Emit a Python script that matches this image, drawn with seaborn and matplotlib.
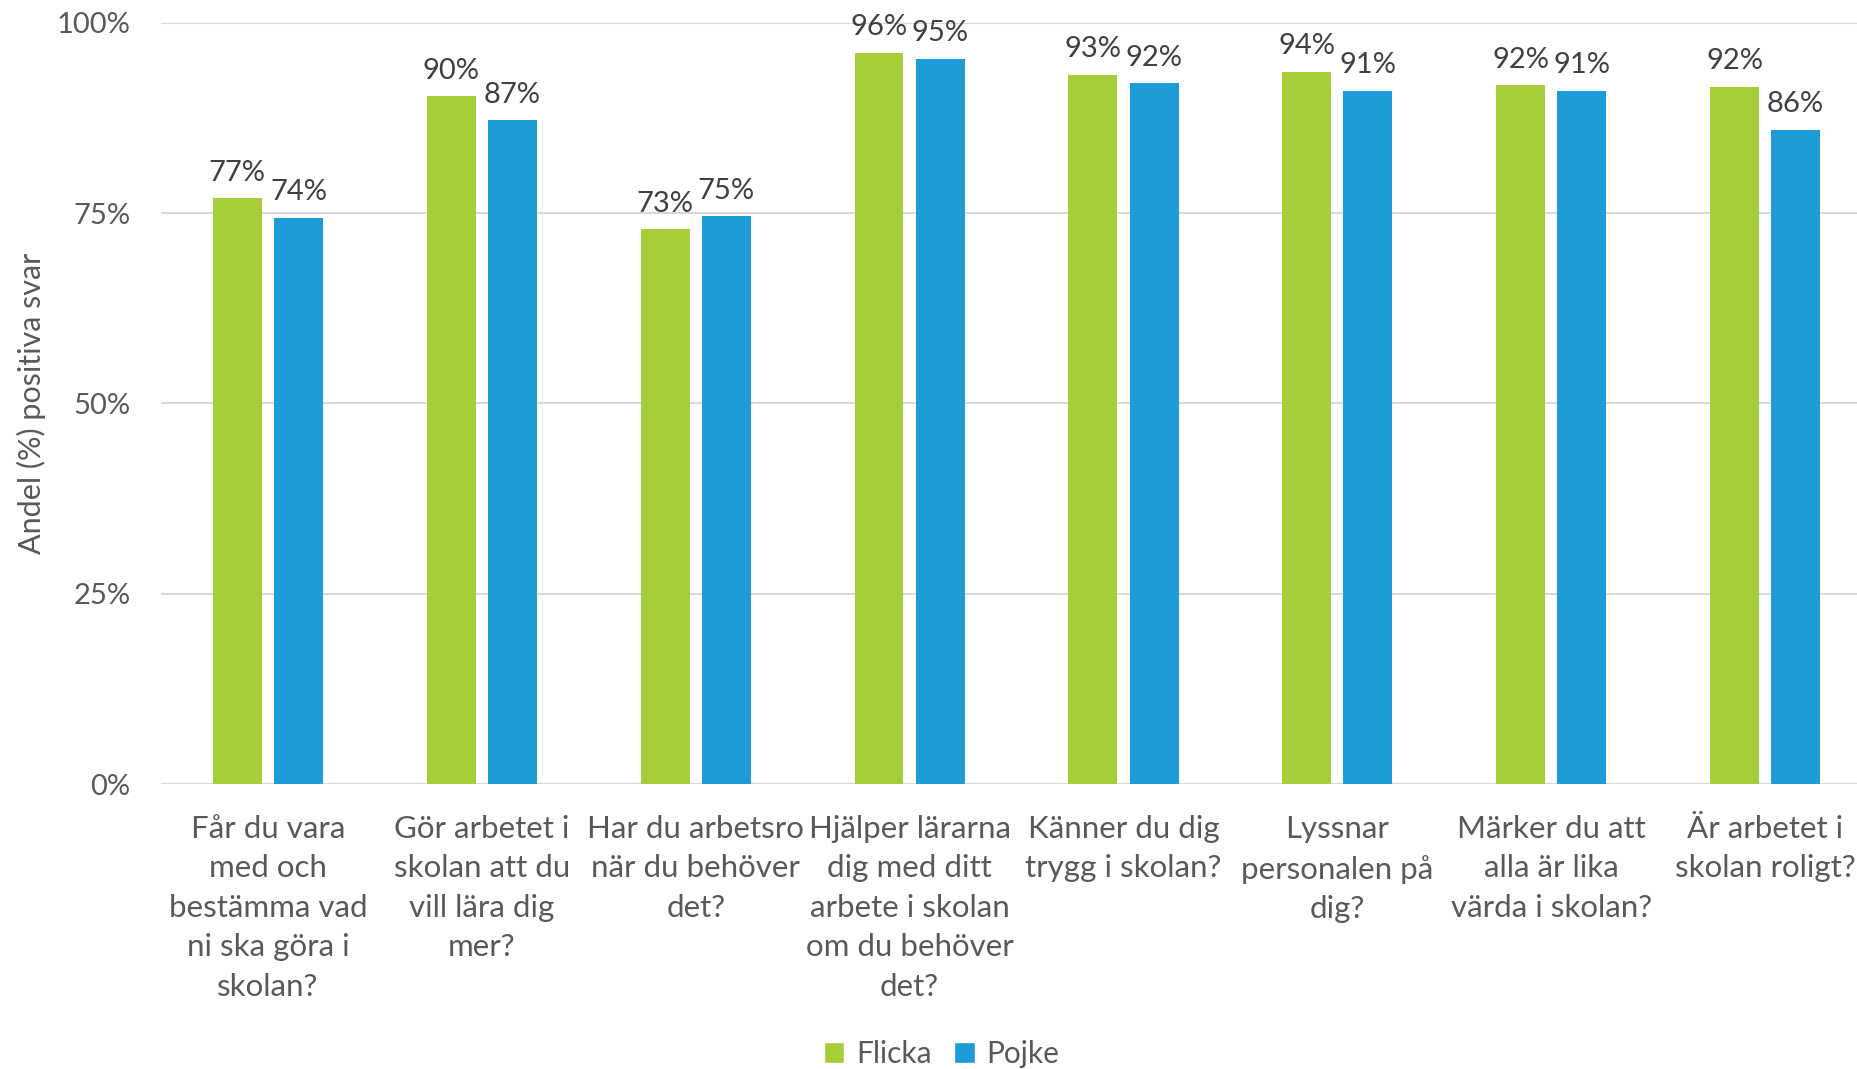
import matplotlib
matplotlib.use("Agg")
import matplotlib.pyplot as plt
import seaborn as sns
import pandas as pd
from matplotlib.ticker import PercentFormatter
from matplotlib.patches import Patch

categories = [
    "Får du vara\nmed och\nbestämma vad\nni ska göra i\nskolan?",
    "Gör arbetet i\nskolan att du\nvill lära dig\nmer?",
    "Har du arbetsro\nnär du behöver\ndet?",
    "Hjälper lärarna\ndig med ditt\narbete i skolan\nom du behöver\ndet?",
    "Känner du dig\ntrygg i skolan?",
    "Lyssnar\npersonalen på\ndig?",
    "Märker du att\nalla är lika\nvärda i skolan?",
    "Är arbetet i\nskolan roligt?",
]
flicka = [77.0, 90.4, 72.9, 96.1, 93.2, 93.6, 91.8, 91.6]
pojke = [74.4, 87.2, 74.6, 95.3, 92.1, 91.1, 91.1, 86.0]
series = ["Flicka", "Pojke"]
colors = ["#A6CE39", "#1E9CD7"]
yticks = [0, 25, 50, 75, 100]

df = pd.DataFrame({
    "Fråga": categories * 2,
    "Kön": ["Flicka"] * len(categories) + ["Pojke"] * len(categories),
    "Andel": flicka + pojke,
})

sns.set_theme(style="white")
plt.rcParams["font.family"] = ["Lato", "DejaVu Sans"]

fig = plt.figure(figsize=(18.57, 10.69), dpi=100)
ax = fig.add_axes([0.0867, 0.2666, 0.9214, 0.7119])

sns.barplot(data=df, x="Fråga", y="Andel", hue="Kön", hue_order=series,
            palette=colors, width=0.572, gap=0.2, ax=ax, legend=False,
            saturation=1, edgecolor="none")

for cont in ax.containers:
    ax.bar_label(cont, labels=[f"{round(v.get_height())}%" for v in cont],
                 padding=9, fontsize=21, color="#404040")

ax.set_ylim(0, 100)
ax.set_xlim(-0.5, len(categories) - 0.5)
ax.set_yticks(yticks)
ax.yaxis.set_major_formatter(PercentFormatter(decimals=0))
ax.grid(axis="y", color="#d9d9d9", linewidth=1.5)
ax.set_axisbelow(True)
for s in ["top", "right", "left", "bottom"]:
    ax.spines[s].set_visible(False)
ax.tick_params(axis="y", length=0, pad=22, labelsize=21, labelcolor="#595959")
ax.tick_params(axis="x", length=0, pad=22, labelsize=22.5, labelcolor="#595959")
for t in ax.get_xticklabels():
    t.set_linespacing(1.5)
ax.set_xlabel("")
ax.set_ylabel("Andel (%) positiva svar", fontsize=22, color="#595959")
ax.yaxis.set_label_coords(-0.0672, 0.5)

handles = [Patch(facecolor=c, label=l) for c, l in zip(colors, series)]
fig.legend(handles=handles, loc="lower center", bbox_to_anchor=(0.507, -0.024),
           ncol=2, frameon=False, fontsize=21.5, labelcolor="#595959",
           handlelength=0.7, handleheight=0.7, handletextpad=0.4, columnspacing=0.73)

fig.savefig("out.png", dpi=100)
